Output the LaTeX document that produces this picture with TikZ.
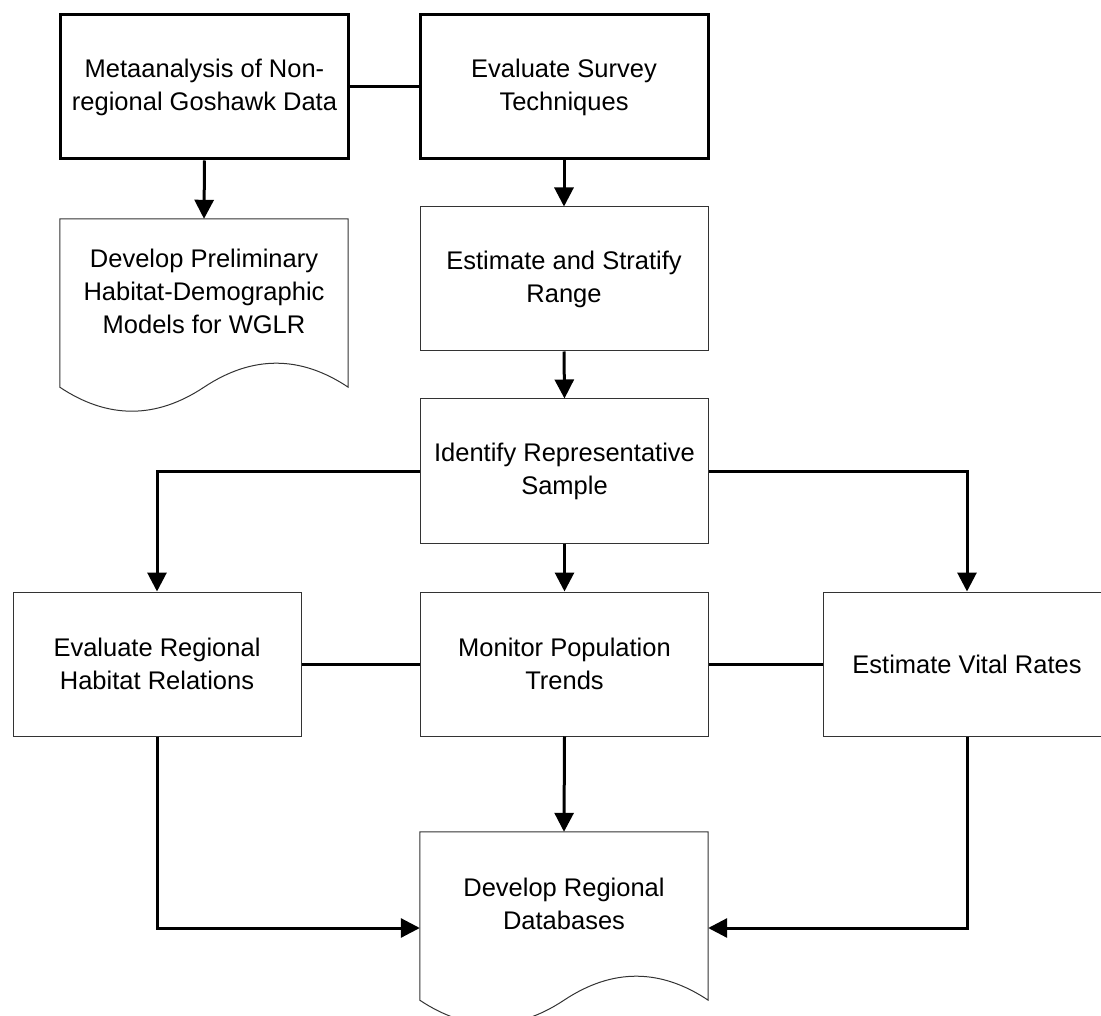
\documentclass[tikz,border=0pt]{standalone}
\usepackage{fontspec}
\setmainfont{Liberation Sans}
\usetikzlibrary{arrows.meta}
\begin{document}
\begin{tikzpicture}[x=1pt,y=-1pt,
  every node/.style={font=\fontsize{25.5}{33}\selectfont, align=center, inner sep=0pt},
  box/.style={draw=black!80, line width=1pt, minimum width=288pt, minimum height=144pt},
  thickbox/.style={draw=black, line width=3pt, minimum width=288pt, minimum height=144pt},
  docnode/.style={minimum width=288pt, minimum height=144pt},
  docline/.style={draw=black!80, line width=1pt},
  link/.style={draw=black, line width=3pt},
  arr/.style={link, -{Triangle[length=19pt,width=19pt]}}
]
\useasboundingbox (0,0) rectangle (1101,1016);
\clip (0,0) rectangle (1101,1016);

\node[thickbox] (b1) at (204.5,87) {Metaanalysis of Non-\\regional Goshawk Data};
\node[thickbox] (b2) at (564,87) {Evaluate Survey\\Techniques};
\node[docnode] (d1) at (204,291) {Develop Preliminary\\Habitat-Demographic\\Models for WGLR};
\node[box] (b3) at (564,279) {Estimate and Stratify\\Range};
\node[box] (b4) at (564.5,471) {Identify Representative\\Sample};
\node[box] (b5) at (157,664) {Evaluate Regional\\Habitat Relations};
\node[box] (b6) at (564.5,664) {Monitor Population\\Trends};
\node[box] (b7) at (967,664) {Estimate Vital Rates};
\node[docnode] (d2) at (564,904) {Develop Regional\\Databases};

% document outlines
\foreach \d in {d1,d2}{
  \draw[docline] (\d.north west) -- (\d.north east) -- ([yshift=-24pt]\d.south east)
    .. controls ([xshift=-48pt,yshift=8pt]\d.south east) and ([xshift=-96pt,yshift=8pt]\d.south east) .. ([yshift=-24pt]\d.south)
    .. controls ([xshift=96pt,yshift=-56pt]\d.south west) and ([xshift=48pt,yshift=-56pt]\d.south west) .. ([yshift=-24pt]\d.south west)
    -- cycle;
}

% connectors
\draw[link] (b1.east) -- (b2.west);
\draw[arr] (b1.south) -- (d1.north);
\draw[arr] (b2.south) -- (b3.north);
\draw[arr] (b3.south) -- (b4.north);
\draw[arr] (b4.west) -| (b5.north);
\draw[arr] (b4.east) -| (b7.north);
\draw[arr] (b4.south) -- (b6.north);
\draw[link] (b5.east) -- (b6.west);
\draw[link] (b6.east) -- (b7.west);
\draw[arr] (b6.south) -- (d2.north);
\draw[arr] (b5.south) |- ([yshift=-24pt]d2.west);
\draw[arr] (b7.south) |- ([yshift=-24pt]d2.east);
\end{tikzpicture}
\end{document}
